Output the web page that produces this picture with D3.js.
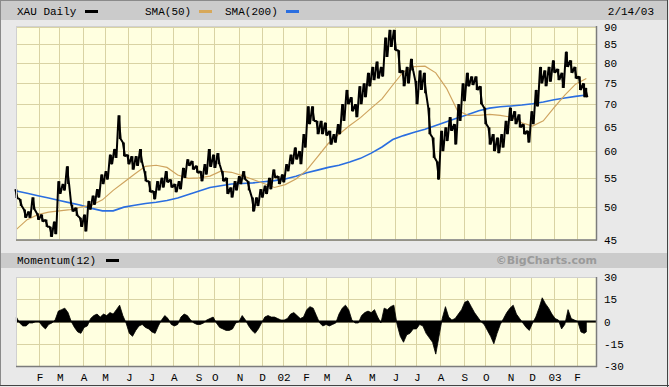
<!DOCTYPE html>
<html lang="en">
<head>
<meta charset="UTF-8">
<title>XAU Daily</title>
<style>
  body { margin: 0; background: #e9e9e9; }
  svg { display: block; }
  .lbl { font-family: "Liberation Mono", "DejaVu Sans Mono", monospace; font-size: 11px; fill: #000; }
</style>
</head>
<body>
<svg width="669" height="387"></svg>
<script src="https://d3js.org/d3.v7.min.js"></script>
<script>
// trading-day index 0 = 2 Jan 2001, last bar (530) = 14 Feb 2003
var monthIdx = [21, 40, 62, 82, 104, 125, 146, 169, 184, 207, 228, 248, 269, 288, 308, 330, 352, 372, 394, 416, 436, 459, 479, 500, 521];
var monthLabels = ["F", "M", "A", "M", "J", "J", "A", "S", "O", "N", "D", "02", "F", "M", "A", "M", "J", "J", "A", "S", "O", "N", "D", "03", "F"];
var priceTicks = [45, 50, 55, 60, 65, 70, 75, 80, 85, 90];
var momTicks = [-30, -15, 0, 15, 30];

// price range read every 4 trading days (last one at 530)
var priceIdx = [0, 4, 8, 12, 16, 20, 24, 28, 32, 36, 40, 44, 48, 52, 56, 60, 64, 68, 72, 76, 80, 84, 88, 92, 96, 100,
  104, 108, 112, 116, 120, 124, 128, 132, 136, 140, 144, 148, 152, 156, 160, 164, 168, 172, 176, 180, 184, 188, 192, 196,
  200, 204, 208, 212, 216, 220, 224, 228, 232, 236, 240, 244, 248, 252, 256, 260, 264, 268, 272, 276, 280, 284, 288, 292,
  296, 300, 304, 308, 312, 316, 320, 324, 328, 332, 336, 340, 344, 348, 352, 356, 360, 364, 368, 372, 376, 380, 384, 388,
  392, 396, 400, 404, 408, 412, 416, 420, 424, 428, 432, 436, 440, 444, 448, 452, 456, 460, 464, 468, 472, 476, 480, 484,
  488, 492, 496, 500, 504, 508, 512, 516, 520, 524, 528, 530];
var priceHigh = [53.0, 51.3, 49.6, 49.3, 51.6, 49.0, 48.8, 48.0, 46.9, 47.7, 54.4, 53.9, 57.1, 50.4, 49.9, 48.3, 48.8, 51.0,
  51.9, 53.0, 55.6, 56.2, 59.3, 60.4, 67.4, 61.7, 59.3, 59.0, 59.0, 60.4, 56.2, 54.4, 52.7, 54.4, 55.0, 56.2, 54.7, 53.9,
  54.4, 56.8, 58.4, 58.1, 57.2, 56.2, 57.5, 60.4, 59.3, 59.6, 56.2, 55.0, 53.3, 54.4, 55.3, 56.2, 54.4, 51.6, 51.6, 53.0,
  53.6, 55.0, 56.5, 55.3, 55.6, 57.5, 59.3, 60.7, 60.0, 63.4, 69.4, 69.4, 66.2, 66.2, 65.8, 64.1, 63.4, 65.5, 69.9, 73.2,
  71.5, 69.9, 74.1, 74.8, 77.4, 78.9, 80.3, 78.9, 86.8, 89.0, 89.0, 83.3, 78.0, 78.9, 81.0, 75.4, 78.0, 77.4, 69.1, 62.7,
  58.0, 64.1, 64.8, 67.0, 65.5, 69.9, 74.8, 77.4, 76.5, 76.5, 74.1, 69.1, 64.8, 63.4, 62.7, 63.4, 66.2, 69.1, 68.3, 67.6,
  65.5, 64.1, 68.3, 73.2, 78.9, 78.0, 78.9, 80.6, 78.4, 77.4, 82.9, 80.6, 78.9, 76.5, 74.8, 73.7];
var priceLow = [51.5, 50.2, 48.3, 48.3, 49.6, 48.0, 47.7, 46.9, 45.4, 45.8, 52.2, 52.8, 53.9, 49.3, 48.6, 46.9, 46.2, 49.6,
  50.4, 51.6, 53.9, 54.7, 57.5, 58.7, 62.4, 59.0, 57.5, 56.5, 57.2, 57.8, 54.4, 52.5, 51.3, 52.8, 53.3, 54.2, 53.3, 52.5,
  53.0, 55.0, 57.2, 56.5, 55.9, 54.4, 55.6, 57.0, 56.8, 57.5, 54.4, 52.2, 51.6, 52.8, 53.9, 54.7, 52.8, 49.3, 50.2, 51.6,
  52.2, 53.0, 55.0, 53.9, 54.2, 56.2, 57.5, 58.4, 57.5, 60.7, 65.5, 66.2, 63.4, 63.4, 63.1, 61.3, 61.7, 63.4, 66.2, 69.9,
  68.3, 67.0, 69.9, 71.5, 74.1, 75.6, 76.0, 76.5, 81.5, 84.2, 83.3, 77.4, 74.1, 74.8, 78.0, 69.9, 73.2, 72.4, 63.4, 58.7,
  54.7, 60.0, 62.0, 64.1, 61.3, 66.2, 70.6, 74.1, 74.4, 73.2, 69.9, 65.5, 61.3, 60.0, 59.6, 60.7, 63.4, 66.2, 65.5, 64.8,
  63.4, 61.7, 65.5, 69.4, 74.8, 74.1, 75.2, 77.4, 75.6, 73.7, 78.9, 77.4, 76.0, 73.2, 71.5, 71.5];

// moving averages read every 10 trading days (last one at 530)
var smaIdx = d3.range(0, 531, 10);
var sma50 = [46.5, 48.0, 48.8, 49.2, 49.4, 49.6, 50.0, 50.3, 51.2, 52.8, 54.2, 55.7, 57.1, 57.3, 56.9, 55.5, 54.9, 55.0,
  55.3, 56.2, 56.0, 55.4, 54.7, 54.0, 53.3, 53.8, 54.8, 56.4, 58.9, 61.5, 63.4, 65.2, 66.9, 69.0, 71.1, 74.4, 77.7, 79.0,
  79.1, 77.4, 73.6, 68.5, 67.4, 67.4, 67.6, 67.4, 67.0, 65.8, 65.1, 66.2, 69.1, 72.0, 74.6, 76.0];
var sma200 = [52.7, 52.3, 51.9, 51.5, 51.1, 50.7, 50.3, 49.8, 49.4, 49.4, 50.0, 50.3, 50.6, 50.8, 51.1, 51.5, 52.1, 52.7,
  53.3, 53.6, 53.9, 54.0, 54.1, 54.3, 54.5, 54.8, 55.3, 55.9, 56.4, 56.9, 57.3, 57.9, 58.6, 59.6, 60.8, 62.3, 63.1, 63.8,
  64.4, 65.2, 66.0, 66.8, 67.6, 68.4, 69.0, 69.3, 69.5, 69.7, 70.0, 70.4, 70.9, 71.3, 71.7, 72.0];

// momentum(12) read every 3 trading days (last one at 530)
var momIdx = d3.range(0, 529, 3).concat([530]);
var momentum = [3, -1, -3, -3, -1, -1, 0, 0, -3, -5, -2, -1, 1, 7, 8, 9, 6, 0, -4, -7, -8, -4, -3, 2, 4, 5, 3, 5, 4, 6,
  5, 8, 11, 4, -1, -8, -10, -6, -3, -2, -4, -5, -7, -8, -3, 1, 4, 2, -2, -3, -2, 3, 5, 4, 1, -1, -2, -2, -1, 1,
  2, 3, -1, -4, -5, -6, -6, -5, -1, 0, 4, 1, -3, -6, -8, -5, -1, 3, 4, 3, 3, 2, 1, 1, 2, 5, 6, 4, 2, 3,
  8, 10, 9, 4, -1, -3, -2, -3, -2, -1, 5, 9, 11, 8, 1, -1, -1, 4, 6, 7, 6, 8, 3, -1, 9, 8, 10, 11, -2, -10,
  -14, -9, -8, -5, -5, -2, -3, -8, -11, -14, -22, -10, 2, 10, 3, 1, 2, 5, 8, 13, 14, 10, 6, 3, 0, -2, -6, -10, -15, -8,
  -2, 2, 6, 9, 11, 5, 2, -1, -4, -6, -1, 3, 9, 16, 12, 9, 5, 2, 1, -5, -2, 8, 2, 1, 0, -7, -8, -7];

var svg = d3.select("svg");
var left = 16, right = 596;

var x = d3.scaleLinear().domain([0, 539]).range([left + 0.4, right]);
var y = d3.scaleLog().domain([45, 90]).range([239.5, 26.5]);
var ym = d3.scaleLinear().domain([-30, 30]).range([366, 277]);

// frame
svg.append("rect").attr("x", 0.5).attr("y", 0.5).attr("width", 667).attr("height", 385)
  .attr("fill", "#e9e9e9").attr("stroke", "#8a8a8a");
svg.append("rect").attr("x", 1).attr("y", 1).attr("width", 667).attr("height", 19).attr("fill", "#cbcbcb");
svg.append("rect").attr("x", 1).attr("y", 253).attr("width", 667).attr("height", 15).attr("fill", "#cbcbcb");
svg.append("line").attr("x1", 0).attr("x2", 669).attr("y1", 385.5).attr("y2", 385.5).attr("stroke", "#444");
svg.append("line").attr("x1", 667.5).attr("x2", 667.5).attr("y1", 0).attr("y2", 387).attr("stroke", "#444");

function panel(top, bottom) {
  svg.append("rect").attr("x", left).attr("y", top).attr("width", right - left).attr("height", bottom - top)
    .attr("fill", "#ffffe0");
  svg.append("g").selectAll("line").data(monthIdx).enter().append("line")
    .attr("x1", function (d) { return Math.round(x(d)) + 0.5; })
    .attr("x2", function (d) { return Math.round(x(d)) + 0.5; })
    .attr("y1", top).attr("y2", bottom)
    .attr("stroke", "#d9d3a4");
}

// main panel
panel(26.5, 239.5);
svg.append("g").selectAll("line").data(priceTicks).enter().append("line")
  .attr("x1", left).attr("x2", right)
  .attr("y1", function (d) { return Math.round(y(d)) + 0.5; })
  .attr("y2", function (d) { return Math.round(y(d)) + 0.5; })
  .attr("stroke", "#d9d3a4");

var smaLine = d3.line().x(function (d, i) { return x(smaIdx[i]); }).y(function (d) { return y(d); });
svg.append("path").datum(sma200).attr("d", smaLine)
  .attr("fill", "none").attr("stroke", "#2a6ee0").attr("stroke-width", 1.6);
svg.append("path").datum(sma50).attr("d", smaLine)
  .attr("fill", "none").attr("stroke", "#cfa460").attr("stroke-width", 1.2);

// price: zig-zag between the high and low of each sample, like a run of daily bars
var step = x(4) - x(0);
var zig = [];
priceIdx.forEach(function (d, i) {
  zig.push([x(d) - step * 0.25, y(priceHigh[i])]);
  zig.push([x(d) + step * 0.25, y(priceLow[i])]);
});
svg.append("path").datum(zig).attr("d", d3.line())
  .attr("fill", "none").attr("stroke", "#000").attr("stroke-width", 2).attr("stroke-linejoin", "bevel");
svg.append("g").selectAll("line").data(priceIdx).enter().append("line")
  .attr("x1", function (d) { return x(d); }).attr("x2", function (d) { return x(d); })
  .attr("y1", function (d, i) { return y(priceHigh[i]); })
  .attr("y2", function (d, i) { return y(priceLow[i]); })
  .attr("stroke", "#000").attr("stroke-width", 1.8);

// panel edges
function edges(top, bottom) {
  svg.append("line").attr("x1", left).attr("x2", right).attr("y1", top + 0.5).attr("y2", top + 0.5).attr("stroke", "#d0d0d0");
  svg.append("line").attr("x1", left + 0.5).attr("x2", left + 0.5).attr("y1", top).attr("y2", bottom).attr("stroke", "#d0d0d0");
  svg.append("line").attr("x1", left).attr("x2", right + 1).attr("y1", bottom + 0.5).attr("y2", bottom + 0.5).attr("stroke", "#7c7c7c").attr("stroke-width", 1.5);
  svg.append("line").attr("x1", right + 0.5).attr("x2", right + 0.5).attr("y1", top).attr("y2", bottom + 1).attr("stroke", "#7c7c7c").attr("stroke-width", 1.5);
}
edges(26, 239.5);

svg.append("g").selectAll("text").data(priceTicks).enter().append("text")
  .attr("class", "lbl").attr("x", 604).attr("y", function (d) { return y(d) + 4; })
  .text(function (d) { return d; });

// momentum panel
panel(277, 366);
svg.append("g").selectAll("line").data(momTicks).enter().append("line")
  .attr("x1", left).attr("x2", right)
  .attr("y1", function (d) { return Math.round(ym(d)) + 0.5; })
  .attr("y2", function (d) { return Math.round(ym(d)) + 0.5; })
  .attr("stroke", "#d9d3a4");
var momArea = d3.area()
  .x(function (d, i) { return x(momIdx[i]); })
  .y0(ym(0)).y1(function (d) { return ym(d); });
svg.append("path").datum(momentum).attr("d", momArea).attr("fill", "#000").attr("stroke", "#000").attr("stroke-width", 0.8);
svg.append("line").attr("x1", left).attr("x2", right).attr("y1", ym(0)).attr("y2", ym(0))
  .attr("stroke", "#000").attr("stroke-width", 2);
edges(277, 366);

svg.append("g").selectAll("text").data(momTicks).enter().append("text")
  .attr("class", "lbl").attr("x", 604).attr("y", function (d) { return ym(d) + 4; })
  .text(function (d) { return d; });

// month labels
svg.append("g").selectAll("text").data(monthLabels).enter().append("text")
  .attr("class", "lbl").attr("text-anchor", "middle")
  .attr("x", function (d, i) { return x(monthIdx[i]) + 1; }).attr("y", 381)
  .text(function (d) { return d; });

// legends
function legend(label, lx, ly, color, sx) {
  svg.append("text").attr("class", "lbl").attr("x", lx).attr("y", ly).text(label);
  svg.append("rect").attr("x", sx).attr("y", ly - 5).attr("width", 13).attr("height", 3).attr("fill", color);
}
legend("XAU Daily", 17, 15, "#000", 85);
legend("SMA(50)", 145, 15, "#d7a85a", 199);
legend("SMA(200)", 225, 15, "#2a6ee0", 286);
svg.append("text").attr("class", "lbl").attr("x", 654).attr("y", 15).attr("text-anchor", "end").text("2/14/03");
legend("Momentum(12)", 17, 264, "#000", 106);
svg.append("text").attr("x", 597).attr("y", 264).attr("text-anchor", "end")
  .style("font-family", "'DejaVu Sans', Verdana, sans-serif").style("font-size", "11px").style("font-weight", "bold")
  .style("fill", "#9a9a9a").text("\u00a9BigCharts.com");
</script>
</body>
</html>
